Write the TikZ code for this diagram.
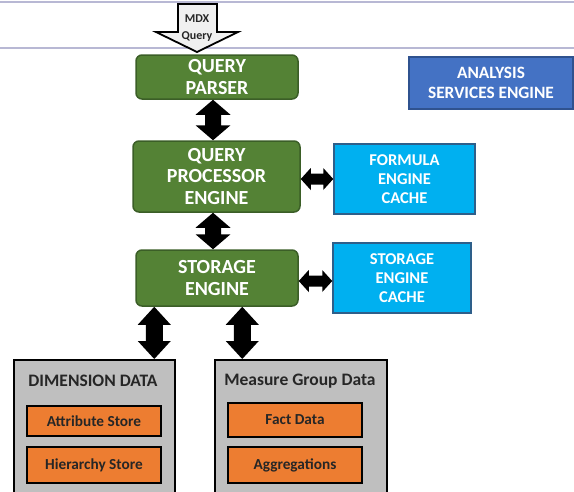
\documentclass[tikz,border=0pt]{standalone}
\usepackage{fontspec}
\setmainfont{Carlito}
\usetikzlibrary{calc}
\definecolor{gfill}{HTML}{548235}
\definecolor{gline}{HTML}{3B5E27}
\definecolor{cfill}{HTML}{00B0F0}
\definecolor{cline}{HTML}{2E5F8A}
\definecolor{bfill}{HTML}{4472C4}
\definecolor{bline}{HTML}{2F528F}
\definecolor{ofill}{HTML}{ED7D31}
\definecolor{grayfill}{HTML}{BFBFBF}
\definecolor{rulecol}{HTML}{B8B8D4}
\definecolor{mdxfill}{HTML}{F0F0F0}
% vertical block double arrow: top, bottom, head half width, shaft half width, head length
\newcommand\vdarrow[5]{%
 \fill let \p1=#1, \p2=#2 in (\x1,\y1) -- (\x1+#3pt,\y1-#5pt) -- (\x1+#4pt,\y1-#5pt) -- (\x1+#4pt,\y2+#5pt) -- (\x1+#3pt,\y2+#5pt) -- (\x1,\y2) -- (\x1-#3pt,\y2+#5pt) -- (\x1-#4pt,\y2+#5pt) -- (\x1-#4pt,\y1-#5pt) -- (\x1-#3pt,\y1-#5pt) -- cycle;}
% horizontal block double arrow: left, right, head half height, shaft half height, head length
\newcommand\hdarrow[5]{%
 \fill let \p1=#1, \p2=#2 in (\x1,\y1) -- (\x1+#5pt,\y1+#3pt) -- (\x1+#5pt,\y1+#4pt) -- (\x2-#5pt,\y1+#4pt) -- (\x2-#5pt,\y1+#3pt) -- (\x2,\y1) -- (\x2-#5pt,\y1-#3pt) -- (\x2-#5pt,\y1-#4pt) -- (\x1+#5pt,\y1-#4pt) -- (\x1+#5pt,\y1-#3pt) -- cycle;}
\tikzset{
  greenbox/.style={draw=gline, fill=gfill, line width=1.5pt, rounded corners=6pt, text=white,
    font=\bfseries\fontsize{20}{21.5}\selectfont, align=center, inner sep=0pt},
  cachebox/.style={draw=cline, fill=cfill, line width=1.5pt, text=white,
    font=\bfseries\fontsize{16.5}{19}\selectfont, align=center, inner sep=0pt},
  asebox/.style={draw=bline, fill=bfill, line width=1.5pt, text=white,
    font=\bfseries\fontsize{17.3}{20}\selectfont, align=center, inner sep=0pt},
  graybox/.style={draw=black, fill=grayfill, line width=1.8pt, inner sep=0pt},
  orangebox/.style={draw=black, fill=ofill, line width=1.8pt, inner sep=0pt,
    font=\bfseries\fontsize{15.3}{17}\selectfont, text=black!85},
  titletext/.style={font=\bfseries\fontsize{17.5}{19}\selectfont, text=black!85, inner sep=0pt},
  ruleline/.style={draw=rulecol, line width=1.5pt}
}
\begin{document}
\begin{tikzpicture}[x=1pt,y=-1pt]
\useasboundingbox (0,0) rectangle (574,491);
\clip (0,0) rectangle (574,491);
% horizontal rules
\coordinate (r1a) at (0,2); \coordinate (r1b) at (574,2);
\coordinate (r2a) at (0,48); \coordinate (r2b) at (574,48);
\draw[ruleline] (r1a) -- (r1b);
\draw[ruleline] (r2a) -- (r2b);
% MDX query arrow
\draw[fill=mdxfill, line width=1.8pt, line join=miter]
  (178,4) -- (217,4) -- (217,32) -- (238,32) -- (197,52) -- (156,32) -- (178,32) -- cycle;
\node[font=\bfseries\fontsize{12}{17}\selectfont, align=center, inner sep=0pt, text=black!85] (mdx) at (197,28.5) {MDX\\Query};
% main boxes
\node[greenbox, minimum width=162pt, minimum height=44pt] (qp) at (217,77) {QUERY\\PARSER};
\node[greenbox, minimum width=167pt, minimum height=71pt] (qpe) at (216.5,176.5) {QUERY\\PROCESSOR\\ENGINE};
\node[greenbox, minimum width=162pt, minimum height=56pt] (se) at (217,278) {STORAGE\\ENGINE};
\node[cachebox, minimum width=141pt, minimum height=70pt] (fec) at (404.5,179) {FORMULA\\ENGINE\\CACHE};
\node[cachebox, minimum width=138pt, minimum height=70pt] (sec) at (402,278) {STORAGE\\ENGINE\\CACHE};
\node[asebox, minimum width=164pt, minimum height=52pt] (ase) at (491,83) {ANALYSIS\\SERVICES ENGINE};
% bottom boxes
\node[graybox, minimum width=161pt, minimum height=140pt, anchor=north west] (dim) at (13,359) {};
\node[graybox, minimum width=172pt, minimum height=140pt, anchor=north west] (mgd) at (214,359) {};
\node[titletext] (dimt) at (93,381) {DIMENSION DATA};
\node[titletext] (mgdt) at (300,381) {Measure Group Data};
\node[orangebox, minimum width=134pt, minimum height=30pt] (attr) at (94,421) {Attribute Store};
\node[orangebox, minimum width=134pt, minimum height=36pt] (hier) at (94,465) {Hierarchy Store};
\node[orangebox, minimum width=134pt, minimum height=34pt] (fact) at (295,420) {Fact Data};
\node[orangebox, minimum width=134pt, minimum height=36pt] (aggr) at (295,465) {Aggregations};
% connectors
\coordinate (a1t) at ($(qp.south)+(-4,0)$);
\coordinate (a1b) at (a1t |- qpe.north);
\vdarrow{(a1t)}{(a1b)}{17.5}{8}{15}
\coordinate (a2t) at ($(qpe.south)+(-3.5,0)$);
\coordinate (a2b) at (a2t |- se.north);
\vdarrow{(a2t)}{(a2b)}{17.5}{8}{15}
\coordinate (h1l) at (fec.west -| qpe.east);
\hdarrow{(h1l)}{(fec.west)}{11}{5.5}{10}
\coordinate (h2l) at ($(sec.west -| se.east)+(0,3)$);
\coordinate (h2r) at ($(sec.west)+(0,3)$);
\hdarrow{(h2l)}{(h2r)}{11}{5.5}{10}
\coordinate (b1t) at ($(se.south west)+(19,0)$);
\coordinate (b1b) at (b1t |- dim.north);
\vdarrow{(b1t)}{(b1b)}{16.5}{8.5}{18}
\coordinate (b2t) at ($(se.south west)+(107,0)$);
\coordinate (b2b) at (b2t |- mgd.north);
\vdarrow{(b2t)}{(b2b)}{16.5}{8.5}{18}
\end{tikzpicture}
\end{document}
